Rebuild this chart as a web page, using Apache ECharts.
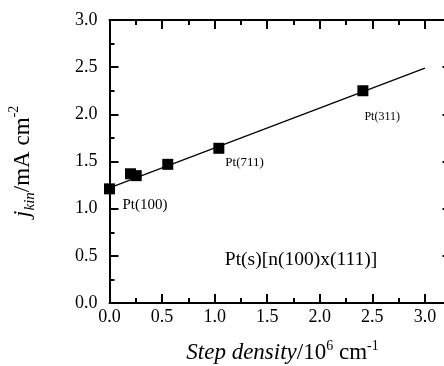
<!DOCTYPE html>
<html>
<head>
<meta charset="utf-8">
<script src="https://cdn.jsdelivr.net/npm/echarts@6/dist/echarts.min.js"></script>
<style>
  html, body { margin: 0; padding: 0; background: #fff; }
  #chart { width: 444px; height: 366px; }
</style>
</head>
<body>
<div id="chart"></div>
<script>
// measured points (step density in 10^6 cm^-1, j_kin in mA cm^-2)
const stepDensity = [0, 0.2, 0.254, 0.554, 1.04, 2.41]
const jKin = [1.21, 1.37, 1.35, 1.47, 1.64, 2.25]
const surfaceNames = ['Pt(100)', '', '', '', 'Pt(711)', 'Pt(311)']

// linear fit drawn through the points
const fitX = [0, 3.0]
const fitY = [1.22, 2.49]

const xTicks = { min: 0, max: 3.5, interval: 0.5 }
const yTicks = { min: 0, max: 3.0, interval: 0.5 }
const seriesTitle = 'Pt(s)[n(100)x(111)]'

const FONT = 'Liberation Serif'

// label look per surface name
const labelLook = {
  'Pt(100)': { fontSize: 15, offset: [2.5, 16] },
  'Pt(711)': { fontSize: 13, offset: [-4, 14] },
  'Pt(311)': { fontSize: 12, offset: [-9, 26] },
}

const chart = echarts.init(document.getElementById('chart'))

const tickStyle = (show, margin) => ({
  axisLine: { show: true, onZero: false, lineStyle: { color: '#000', width: 2 } },
  axisTick: { show: true, inside: true, length: 9, lineStyle: { color: '#000', width: 2 } },
  minorTick: { show: true, splitNumber: 2, length: 5, lineStyle: { color: '#000', width: 2 } },
  splitLine: { show: false },
  minorSplitLine: { show: false },
  axisLabel: {
    show,
    margin,
    color: '#000',
    fontFamily: FONT,
    fontSize: 18,
    formatter: (v) => v.toFixed(1),
  },
})

const xName = '{i|Step density}{n|/10}{sup|6}{n| cm}{sup|-1}'
const yName = '{i|j}{sub|kin}{n|/mA cm}{sup|-2}'

chart.setOption({
  animation: false,
  backgroundColor: '#fff',
  grid: { left: 109.5, top: 20, width: 368, height: 283, outerBoundsMode: 'none', containLabel: false },
  xAxis: [
    {
      type: 'value',
      position: 'bottom',
      ...xTicks,
      ...tickStyle(true, 5),
      name: xName,
      nameLocation: 'middle',
      nameGap: 36,
      nameTextStyle: {
        padding: [0, 22, 0, 0],
        rich: {
          i: { fontFamily: FONT, fontStyle: 'italic', fontSize: 23, color: '#000', lineHeight: 28 },
          n: { fontFamily: FONT, fontSize: 23, color: '#000', lineHeight: 28 },
          sup: { fontFamily: FONT, fontSize: 14, color: '#000', verticalAlign: 'top', lineHeight: 16 },
        },
      },
    },
    {
      type: 'value',
      position: 'top',
      ...xTicks,
      ...tickStyle(false, 0),
    },
  ],
  yAxis: [
    {
      type: 'value',
      position: 'left',
      ...yTicks,
      ...tickStyle(true, 12),
      name: yName,
      nameLocation: 'middle',
      nameGap: 72,
      nameRotate: 90,
      nameTextStyle: {
        rich: {
          i: { fontFamily: FONT, fontStyle: 'italic', fontSize: 24, color: '#000', lineHeight: 30 },
          sub: { fontFamily: FONT, fontStyle: 'italic', fontSize: 15, color: '#000', verticalAlign: 'bottom', lineHeight: 20 },
          n: { fontFamily: FONT, fontSize: 23, color: '#000', lineHeight: 30 },
          sup: { fontFamily: FONT, fontSize: 14, color: '#000', verticalAlign: 'top', lineHeight: 16 },
        },
      },
    },
    {
      type: 'value',
      position: 'right',
      offset: -26,
      ...yTicks,
      ...tickStyle(false, 0),
    },
  ],
  graphic: [
    {
      type: 'text',
      x: 301,
      y: 260,
      style: {
        text: seriesTitle,
        fontFamily: FONT,
        fontSize: 19.5,
        fill: '#000',
        align: 'center',
        verticalAlign: 'middle',
      },
    },
  ],
  series: [
    {
      type: 'line',
      data: fitX.map((x, i) => [x, fitY[i]]),
      symbol: 'none',
      lineStyle: { color: '#000', width: 1.2 },
      z: 2,
    },
    {
      type: 'scatter',
      symbol: 'rect',
      symbolSize: 11,
      itemStyle: { color: '#000', opacity: 1 },
      z: 3,
      data: stepDensity.map((x, i) => {
        const name = surfaceNames[i]
        const look = labelLook[name]
        return {
          value: [x, jKin[i]],
          label: look
            ? {
                show: true,
                formatter: name,
                position: 'right',
                distance: 5,
                offset: look.offset,
                fontFamily: FONT,
                fontSize: look.fontSize,
                color: '#000',
              }
            : { show: false },
        }
      }),
    },
  ],
})
</script>
</body>
</html>
